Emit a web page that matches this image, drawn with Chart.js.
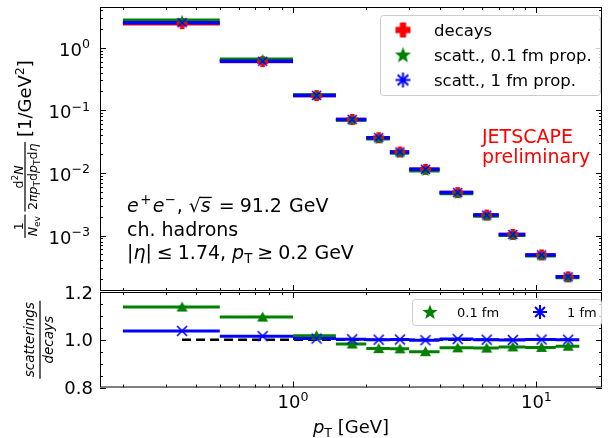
<!DOCTYPE html>
<html>
<head>
<meta charset="utf-8">
<script src="https://cdn.jsdelivr.net/npm/chart.js@4.4.1/dist/chart.umd.min.js"></script>
<style>
    html, body { margin: 0; padding: 0; background: #fff; }
    #wrap { position: relative; width: 608px; height: 438px; }
    #wrap canvas { position: absolute; left: 0; top: 0; }
</style>
</head>
<body>
<div id="wrap">
    <canvas id="specChart" width="608" height="438"></canvas>
    <canvas id="ratioChart" width="608" height="438"></canvas>
</div>
<script>
// pT bins [GeV]
const binLo  = [0.2, 0.5, 1.0, 1.5, 2.0, 2.5, 3.0, 4.0, 5.5, 7.0, 9.0, 12.0];
const binHi  = [0.5, 1.0, 1.5, 2.0, 2.5, 3.0, 4.0, 5.5, 7.0, 9.0, 12.0, 15.0];
const binMid = [0.35, 0.75, 1.25, 1.75, 2.25, 2.75, 3.5, 4.75, 6.25, 8.0, 10.5, 13.5];

// spectra [1/GeV^2]
const decays  = [2.42, 0.600, 0.172, 0.0715, 0.0365, 0.0216, 0.0114, 0.00485, 0.00212, 0.00104, 0.00049, 0.000219];
const scatt01 = [2.75, 0.657, 0.175, 0.0702, 0.0352, 0.0208, 0.0108, 0.00469, 0.00205, 0.00101, 0.000474, 0.000213];
const scatt1  = [2.51, 0.609, 0.173, 0.0716, 0.0365, 0.0216, 0.0114, 0.00486, 0.00212, 0.00104, 0.00049, 0.000219];

// ratios scatterings / decays
const ratio01 = [1.137, 1.095, 1.017, 0.982, 0.963, 0.962, 0.950, 0.966, 0.965, 0.970, 0.968, 0.973];
const ratio1  = [1.037, 1.015, 1.005, 1.002, 1.000, 1.001, 0.998, 1.003, 1.000, 0.999, 1.001, 1.000];
const unity   = [1.0, 1.0];

// ticks
const xMajor = [1, 10];
const specExp = [0, -1, -2, -3];
const ratioMajor = [0.8, 1.0, 1.2];

const FONT = '"DejaVu Sans", sans-serif';
const RED = '#ff0000', GREEN = '#008000', BLUE = '#0000ff';

/* -----------------------------
    MARKER IMAGES
------------------------------ */
function marker(kind, size, color) {
    const c = document.createElement('canvas');
    c.width = c.height = size + 4;
    const g = c.getContext('2d');
    const m = c.width / 2, r = size / 2;
    g.fillStyle = color;
    g.strokeStyle = color;
    g.lineCap = 'butt';
    if (kind === 'plus') {
        const t = size * 0.42;
        g.fillRect(m - t / 2, m - r, t, size);
        g.fillRect(m - r, m - t / 2, size, t);
    } else if (kind === 'star') {
        g.beginPath();
        for (let i = 0; i < 10; i++) {
            const rr = i % 2 ? r * 0.42 : r;
            const a = -Math.PI / 2 + i * Math.PI / 5;
            g.lineTo(m + rr * Math.cos(a), m + 0.5 + rr * Math.sin(a));
        }
        g.closePath();
        g.fill();
    } else if (kind === 'tri') {
        g.beginPath();
        g.moveTo(m, m - r);
        g.lineTo(m + r, m + r * 0.8);
        g.lineTo(m - r, m + r * 0.8);
        g.closePath();
        g.fill();
    } else if (kind === 'x') {
        g.lineWidth = 1.6;
        g.beginPath();
        g.moveTo(m - r, m - r); g.lineTo(m + r, m + r);
        g.moveTo(m + r, m - r); g.lineTo(m - r, m + r);
        g.stroke();
    } else if (kind === 'ast') {
        g.lineWidth = 2;
        g.beginPath();
        for (let i = 0; i < 4; i++) {
            const a = i * Math.PI / 4;
            g.moveTo(m - r * Math.cos(a), m - r * Math.sin(a));
            g.lineTo(m + r * Math.cos(a), m + r * Math.sin(a));
        }
        g.stroke();
    }
    return c;
}

/* -----------------------------
    TEXT HELPERS
------------------------------ */
function runs(ctx, segs, x, y, measureOnly) {
    let cx = x;
    segs.forEach(s => {
        ctx.font = (s.it ? 'italic ' : '') + s.sz + 'px ' + FONT;
        const w = ctx.measureText(s.t).width;
        if (!measureOnly) {
            ctx.fillText(s.t, cx, y + (s.dy || 0));
            if (s.over) ctx.fillRect(cx - 1, y - s.sz * 0.8, w + 2, 1.3);
        }
        cx += w + (s.gap || 0);
    });
    return cx - x;
}

function pow10(exp) {
    const e = exp < 0 ? '\u2212' + Math.abs(exp) : String(exp);
    return [{ t: '10', sz: 18 }, { t: e, sz: 12.6, dy: -7.5 }];
}

function fraction(ctx, num, den, x, barY, numBase, denBase) {
    const wn = runs(ctx, num, 0, 0, true), wd = runs(ctx, den, 0, 0, true);
    const w = Math.max(wn, wd) + 3;
    runs(ctx, num, x + (w - wn) / 2, numBase);
    runs(ctx, den, x + (w - wd) / 2, denBase);
    ctx.fillRect(x, barY - 0.6, w, 1.2);
    return w;
}

function fracWidth(ctx, num, den) {
    return Math.max(runs(ctx, num, 0, 0, true), runs(ctx, den, 0, 0, true)) + 3;
}

function roundRect(ctx, x, y, w, h, r) {
    ctx.beginPath();
    ctx.moveTo(x + r, y);
    ctx.arcTo(x + w, y, x + w, y + h, r);
    ctx.arcTo(x + w, y + h, x, y + h, r);
    ctx.arcTo(x, y + h, x, y, r);
    ctx.arcTo(x, y, x + w, y, r);
    ctx.closePath();
}

/* -----------------------------
    FRAME + INWARD TICKS
------------------------------ */
function logMinor(min, max) {
    const out = [];
    for (let e = -5; e <= 2; e++) {
        for (let k = 2; k <= 9; k++) {
            const v = k * Math.pow(10, e);
            if (v > min && v < max) out.push(v);
        }
    }
    return out;
}

function drawFrame(chart, yMajor, yMinor) {
    const { ctx, chartArea: a, scales: { x, y } } = chart;
    ctx.save();
    ctx.strokeStyle = '#000';
    ctx.lineWidth = 1;
    ctx.strokeRect(a.left + 0.5, a.top + 0.5, a.right - a.left - 1, a.bottom - a.top - 1);
    ctx.beginPath();
    const xm = xMajor.map(v => [v, 6]).concat(logMinor(x.min, x.max).map(v => [v, 3]));
    xm.forEach(([v, len]) => {
        const px = Math.round(x.getPixelForValue(v)) + 0.5;
        ctx.moveTo(px, a.top); ctx.lineTo(px, a.top + len);
        ctx.moveTo(px, a.bottom); ctx.lineTo(px, a.bottom - len);
    });
    const ym = yMajor.map(v => [v, 6]).concat(yMinor.map(v => [v, 3]));
    ym.forEach(([v, len]) => {
        const py = Math.round(y.getPixelForValue(v)) + 0.5;
        ctx.moveTo(a.left, py); ctx.lineTo(a.left + len, py);
        ctx.moveTo(a.right, py); ctx.lineTo(a.right - len, py);
    });
    ctx.stroke();
    ctx.restore();
}

/* -----------------------------
    DATASET BUILDERS
------------------------------ */
function binSegments(vals) {
    const pts = [];
    vals.forEach((v, i) => {
        pts.push({ x: binLo[i], y: v }, { x: binHi[i], y: v }, { x: binHi[i], y: null });
    });
    return pts;
}
function midPoints(vals) {
    return vals.map((v, i) => ({ x: binMid[i], y: v }));
}
function barSet(vals, color, width, order) {
    return {
        type: 'line', data: binSegments(vals), borderColor: color, borderWidth: width,
        pointRadius: 0, spanGaps: false, borderCapStyle: 'butt', order: order
    };
}
function markSet(vals, img, order) {
    return {
        type: 'scatter', data: midPoints(vals), showLine: false,
        pointStyle: img, pointRadius: 5, order: order
    };
}

const xScale = { type: 'logarithmic', min: 0.161, max: 18.6, display: false };

document.addEventListener('DOMContentLoaded', function () {

    /* -----------------------------
        1. SPECTRUM PANEL
    ------------------------------ */
    const specDeco = {
        id: 'specDeco',
        afterDraw(chart) {
            const { ctx, chartArea: a, scales: { y } } = chart;
            const minor = logMinor(y.min, y.max);
            drawFrame(chart, specExp.map(e => Math.pow(10, e)), minor);

            ctx.save();
            ctx.fillStyle = '#000';
            ctx.textAlign = 'left';
            // y tick labels
            specExp.forEach(e => {
                const py = y.getPixelForValue(Math.pow(10, e));
                const segs = pow10(e);
                const w = runs(ctx, segs, 0, 0, true);
                runs(ctx, segs, 90 - w, py + 8);
            });

            // y axis title (rotated)
            const fA = [[{ t: '1', sz: 12.6 }], [{ t: 'N', sz: 12.6, it: true }, { t: 'ev', sz: 9, dy: 2.5 }]];
            const fB = [[{ t: 'd', sz: 12.6 }, { t: '2', sz: 9, dy: -5 }, { t: 'N', sz: 12.6, it: true }],
                        [{ t: '2', sz: 12.6 }, { t: '\u03c0', sz: 12.6, it: true }, { t: 'p', sz: 12.6, it: true },
                         { t: 'T', sz: 9, dy: 2.5 }, { t: 'd', sz: 12.6 }, { t: 'p', sz: 12.6, it: true },
                         { t: 'T', sz: 9, dy: 2.5 }, { t: 'd', sz: 12.6 }, { t: '\u03b7', sz: 12.6, it: true }]];
            const big = [{ t: '[1/GeV', sz: 18 }, { t: '2', sz: 12.6, dy: -7 }, { t: ']', sz: 18 }];
            const wA = fracWidth(ctx, fA[0], fA[1]);
            const wB = fracWidth(ctx, fB[0], fB[1]);
            const wC = runs(ctx, big, 0, 0, true);
            const total = wA + 3 + wB + 5 + wC;
            ctx.translate(31, (a.top + a.bottom) / 2);
            ctx.rotate(-Math.PI / 2);
            let cx = -total / 2;
            fraction(ctx, fA[0], fA[1], cx, -6, -8.5, 6);
            cx += wA + 3;
            fraction(ctx, fB[0], fB[1], cx, -6, -8.5, 6);
            cx += wB + 5;
            runs(ctx, big, cx, 0);
            ctx.setTransform(1, 0, 0, 1, 0, 0);

            // collision annotation
            runs(ctx, [{ t: 'e', sz: 19, it: true, gap: 1.5 }, { t: '+', sz: 13.3, dy: -8, gap: 1.5 },
                       { t: 'e', sz: 19, it: true }, { t: '\u2212', sz: 13.3, dy: -8, gap: 1 },
                       { t: ',', sz: 19, gap: 6 }, { t: '\u221a', sz: 19 },
                       { t: 's', sz: 19, it: true, over: true, gap: 8 }, { t: '=', sz: 19, gap: 5 },
                       { t: '91.2', sz: 19, gap: 1 }, { t: ' GeV', sz: 19 }], 127, 212);
            runs(ctx, [{ t: 'ch. hadrons', sz: 19 }], 127, 236);
            runs(ctx, [{ t: '|', sz: 19 }, { t: '\u03b7', sz: 19, it: true }, { t: '|', sz: 19, gap: 5 },
                       { t: '\u2264', sz: 19, gap: 5 }, { t: '1.74,', sz: 19, gap: 6 },
                       { t: 'p', sz: 19, it: true }, { t: 'T', sz: 13.3, dy: 4, gap: 5 },
                       { t: '\u2265', sz: 19, gap: 5 }, { t: '0.2', sz: 19, gap: 6 }, { t: 'GeV', sz: 19 }], 127, 259);

            ctx.fillStyle = RED;
            ctx.font = '19px ' + FONT;
            ctx.fillText('JETSCAPE', 482, 143);
            ctx.fillText('preliminary', 482, 163);

            // legend
            ctx.fillStyle = 'rgba(255,255,255,0.8)';
            ctx.strokeStyle = '#cccccc';
            ctx.lineWidth = 1;
            roundRect(ctx, 380.5, 15.5, 220, 80, 3);
            ctx.fill();
            ctx.stroke();
            const rows = [['decays', marker('plus', 15, RED)],
                          ['scatt., 0.1 fm prop.', marker('star', 17, GREEN)],
                          ['scatt., 1 fm prop.', marker('ast', 15, BLUE)]];
            ctx.fillStyle = '#000';
            ctx.font = '16.5px ' + FONT;
            rows.forEach(([label, img], i) => {
                const ry = 30 + i * 25;
                ctx.drawImage(img, 403 - img.width / 2, ry - img.height / 2);
                ctx.fillText(label, 434, ry + 6);
            });
            ctx.restore();
        }
    };

    new Chart(document.getElementById('specChart'), {
        type: 'line',
        data: {
            datasets: [
                markSet(scatt1, marker('x', 9, BLUE), 0),
                markSet(scatt01, marker('star', 12, GREEN), 1),
                markSet(decays, marker('plus', 11, RED), 2),
                barSet(scatt1, BLUE, 3.5, 3),
                barSet(scatt01, GREEN, 3.5, 4),
                barSet(decays, RED, 3.5, 5)
            ]
        },
        options: {
            responsive: false,
            animation: false,
            devicePixelRatio: 1,
            events: [],
            layout: { padding: { left: 100, right: 2, top: 7, bottom: 147 } },
            scales: {
                x: xScale,
                y: { type: 'logarithmic', min: 1.3e-4, max: 4.47, display: false }
            },
            plugins: { legend: { display: false }, tooltip: { enabled: false } }
        },
        plugins: [specDeco]
    });

    /* -----------------------------
        2. RATIO PANEL
    ------------------------------ */
    const ratioDeco = {
        id: 'ratioDeco',
        afterDraw(chart) {
            const { ctx, chartArea: a, scales: { x, y } } = chart;
            const minor = [];
            for (let v = 0.85; v < 1.2; v += 0.05) {
                if (Math.abs(v - 1.0) > 0.01) minor.push(v);
            }
            drawFrame(chart, ratioMajor, minor);

            ctx.save();
            ctx.fillStyle = '#000';
            ctx.textAlign = 'left';
            ctx.font = '18px ' + FONT;
            ratioMajor.forEach(v => {
                const s = v.toFixed(1);
                const w = ctx.measureText(s).width;
                ctx.fillText(s, 93 - w, y.getPixelForValue(v) + 6.5);
            });
            xMajor.forEach((v, i) => {
                const segs = pow10(i);
                const w = runs(ctx, segs, 0, 0, true);
                runs(ctx, segs, x.getPixelForValue(v) - w / 2, 408);
            });
            const xl = [{ t: 'p', sz: 18, it: true }, { t: 'T', sz: 12.6, dy: 3.6 }, { t: ' [GeV]', sz: 18 }];
            const wl = runs(ctx, xl, 0, 0, true);
            runs(ctx, xl, (a.left + a.right) / 2 - wl / 2, 433);

            // y axis title (rotated)
            const num = [{ t: 'scatterings', sz: 13.5, it: true }];
            const den = [{ t: 'decays', sz: 13.5, it: true }];
            const wf = fracWidth(ctx, num, den);
            ctx.translate(34, (a.top + a.bottom) / 2);
            ctx.rotate(-Math.PI / 2);
            fraction(ctx, num, den, -wf / 2, 6, 0, 19);
            ctx.setTransform(1, 0, 0, 1, 0, 0);

            // legend
            ctx.fillStyle = 'rgba(255,255,255,0.8)';
            ctx.strokeStyle = '#cccccc';
            ctx.lineWidth = 1;
            roundRect(ctx, 412.5, 299.5, 189, 26, 3);
            ctx.fill();
            ctx.stroke();
            ctx.fillStyle = '#000';
            ctx.font = '13px ' + FONT;
            const g = marker('star', 16, GREEN), b = marker('ast', 14, BLUE);
            ctx.drawImage(g, 430 - g.width / 2, 312 - g.height / 2);
            ctx.fillText('0.1 fm', 457, 317);
            ctx.drawImage(b, 540 - b.width / 2, 312 - b.height / 2);
            ctx.fillText('1 fm', 567, 317);
            ctx.restore();
        }
    };

    new Chart(document.getElementById('ratioChart'), {
        type: 'line',
        data: {
            datasets: [
                markSet(ratio1, marker('x', 10, BLUE), 0),
                markSet(ratio01, marker('tri', 11, GREEN), 1),
                barSet(ratio1, BLUE, 3, 2),
                barSet(ratio01, GREEN, 3, 3),
                {
                    type: 'line',
                    data: [{ x: binMid[0], y: unity[0] }, { x: binMid[binMid.length - 1], y: unity[1] }],
                    borderColor: '#000', borderWidth: 2.5, borderDash: [9, 5],
                    pointRadius: 0, order: 4
                }
            ]
        },
        options: {
            responsive: false,
            animation: false,
            devicePixelRatio: 1,
            events: [],
            layout: { padding: { left: 100, right: 2, top: 292, bottom: 50.5 } },
            scales: {
                x: xScale,
                y: { type: 'linear', min: 0.8, max: 1.2, display: false }
            },
            plugins: { legend: { display: false }, tooltip: { enabled: false } }
        },
        plugins: [ratioDeco]
    });
});
</script>
</body>
</html>
